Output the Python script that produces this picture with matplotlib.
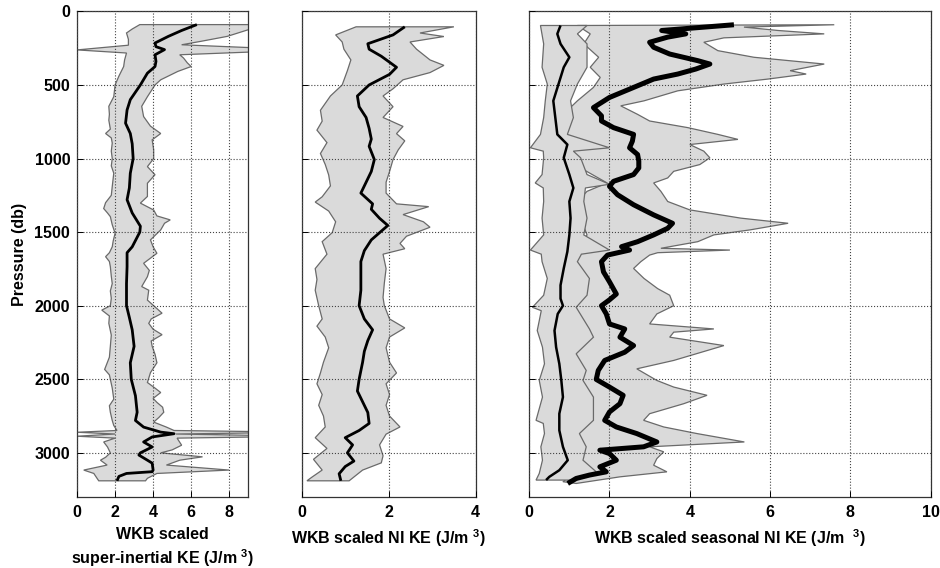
import numpy as np
import matplotlib.pyplot as plt

plt.rcParams['font.family'] = ['Liberation Sans', 'DejaVu Sans']
plt.rcParams['font.weight'] = 'bold'
plt.rcParams['mathtext.fontset'] = 'custom'
plt.rcParams['mathtext.rm'] = 'Liberation Sans:bold'
plt.rcParams['mathtext.bf'] = 'Liberation Sans:bold'
plt.rcParams['mathtext.default'] = 'bf'

# ---- left panel: super-inertial KE -------------------------------------
p_si_mean = [90, 130, 170, 215, 240, 260, 295, 340, 375, 420, 500, 600, 670, 760, 830, 900,
             1000, 1100, 1200, 1280, 1370, 1460, 1500, 1600, 1640, 1735, 1850, 2000, 2080,
             2164, 2276, 2388, 2500, 2612, 2724, 2780, 2825, 2859, 2870, 2892, 2926, 2960,
             3000, 3015, 3050, 3070, 3117, 3128, 3140, 3160, 3190]
si_mean = [6.3, 5.5, 4.8, 4.1, 4.15, 4.6, 4.1, 4.15, 4.1, 3.7, 3.33, 2.8, 2.63, 2.55, 2.8, 2.9,
           2.95, 2.8, 2.75, 2.63, 2.9, 3.33, 3.3, 2.9, 2.63, 2.63, 2.6, 2.6, 2.75,
           2.9, 3.0, 2.8, 2.85, 3.07, 3.16, 3.07, 3.5, 4.4, 5.1, 3.95, 3.5, 3.95,
           3.33, 3.25, 3.7, 3.95, 4.0, 3.95, 2.6, 2.2, 2.1]

p_si_lo = [90, 120, 147, 190, 230, 262, 283, 330, 375, 440, 500, 580, 645, 700, 740, 800, 830,
           860, 895, 950, 1000, 1050, 1100, 1190, 1250, 1300, 1340, 1370, 1395, 1450, 1508,
           1560, 1600, 1640, 1667, 1700, 1735, 1800, 1850, 1900, 1950, 2000, 2030, 2070, 2120,
           2200, 2276, 2350, 2433, 2470, 2500, 2560, 2635, 2680, 2724, 2780, 2814, 2848, 2860,
           2872, 2887, 2900, 2926, 2960, 3000, 3030, 3050, 3083, 3117, 3140, 3173, 3190]
si_lo = [3.3, 2.9, 2.6, 2.7, 2.7, 0.0, 2.6, 2.5, 2.45, 2.2, 2.0, 1.93, 1.67, 1.7, 1.67, 1.75, 1.5,
         1.8, 1.85, 1.8, 1.85, 1.8, 1.93, 1.85, 1.8, 1.5, 1.4, 1.6, 1.75, 1.85, 2.0,
         1.9, 1.85, 1.7, 1.5, 1.7, 1.75, 1.8, 1.85, 1.75, 1.8, 1.75, 1.3, 1.7, 1.67,
         1.8, 1.75, 1.7, 1.45, 1.7, 1.75, 1.85, 1.93, 1.7, 1.75, 1.85, 1.93, 2.1, 0.0,
         2.0, 0.0, 2.0, 1.4, 1.6, 1.75, 1.5, 1.23, 1.58, 0.35, 0.88, 1.05, 1.14]

p_si_hi = [90, 125, 170, 204, 227, 262, 295, 317, 350, 375, 408, 465, 500, 580, 645, 715, 780,
           830, 873, 940, 1000, 1055, 1110, 1168, 1258, 1303, 1350, 1390, 1417, 1440, 1485,
           1553, 1600, 1644, 1712, 1760, 1803, 1870, 1895, 1962, 2051, 2090, 2120, 2160, 2197,
           2240, 2276, 2330, 2388, 2455, 2522, 2560, 2590, 2630, 2657, 2690, 2724, 2760, 2791,
           2825, 2848, 2860, 2872, 2887, 2900, 2948, 2980, 3000, 3027, 3050, 3083, 3117, 3140,
           3173, 3190]
si_hi = [10.5, 9.0, 7.9, 6.5, 5.5, 12.0, 5.4, 5.6, 5.8, 6.0, 5.3, 4.4, 4.1, 3.7, 3.4, 3.5, 3.86,
         4.4, 3.95, 4.03, 4.03, 3.7, 4.1, 3.7, 3.7, 3.33, 4.03, 4.2, 4.9, 4.6, 4.4,
         3.86, 4.0, 4.2, 3.5, 3.8, 3.7, 3.4, 3.77, 3.7, 4.47, 3.9, 3.77, 4.0, 4.47,
         3.9, 3.95, 4.1, 4.2, 3.86, 3.7, 4.1, 4.4, 4.0, 4.2, 4.5, 4.56, 4.3, 4.03,
         4.7, 5.1, 12.0, 5.2, 12.0, 5.26, 5.5, 5.0, 4.4, 6.6, 5.4, 4.7, 8.0, 4.2,
         3.7, 3.6]

# ---- middle panel: NI KE -----------------------------------------------
p_ni_mean = [105, 160, 220, 257, 305, 380, 428, 500, 575, 648, 721, 795, 868, 917, 1007, 1088,
             1186, 1235, 1308, 1345, 1406, 1455, 1504, 1553, 1626, 1700, 1797, 1895, 2000, 2090,
             2164, 2237, 2310, 2384, 2500, 2580, 2653, 2726, 2800, 2848, 2897, 2946, 3000, 3056,
             3093, 3142, 3190]
ni_mean = [2.37, 2.1, 1.52, 1.55, 1.83, 2.18, 2.02, 1.55, 1.28, 1.32, 1.48, 1.55, 1.6, 1.55, 1.67,
           1.6, 1.44, 1.36, 1.63, 1.6, 1.79, 1.98, 1.79, 1.6, 1.44, 1.36, 1.36, 1.36, 1.32, 1.44,
           1.63, 1.52, 1.44, 1.4, 1.32, 1.28, 1.4, 1.52, 1.55, 1.32, 1.0, 1.17, 1.05, 1.2,
           1.0, 0.86, 0.9]

p_ni_lo = [105, 160, 208, 257, 330, 403, 500, 575, 672, 746, 807, 892, 966, 1040, 1112, 1186,
           1260, 1296, 1357, 1430, 1504, 1565, 1650, 1748, 1822, 1895, 2000, 2090, 2139, 2213,
           2286, 2384, 2457, 2531, 2604, 2677, 2750, 2824, 2897, 2970, 3044, 3117, 3166, 3190]
ni_lo = [1.25, 0.78, 0.93, 0.97, 1.13, 1.05, 0.93, 0.66, 0.43, 0.47, 0.35, 0.58, 0.43, 0.54, 0.62,
         0.66, 0.47, 0.31, 0.62, 0.78, 0.7, 0.47, 0.58, 0.31, 0.35, 0.31, 0.39, 0.47, 0.35, 0.54,
         0.62, 0.5, 0.43, 0.35, 0.47, 0.39, 0.5, 0.54, 0.31, 0.58, 0.27, 0.47, 0.23, 0.12]

p_ni_hi = [105, 147, 171, 208, 257, 330, 367, 416, 465, 526, 575, 648, 721, 782, 831, 880, 941,
           1007, 1088, 1161, 1235, 1308, 1327, 1381, 1430, 1467, 1528, 1577, 1613, 1650, 1748,
           1846, 1944, 2000, 2090, 2151, 2213, 2286, 2384, 2457, 2531, 2604, 2677, 2750, 2824,
           2873, 2946, 3020, 3068, 3117, 3190]
ni_hi = [3.5, 2.72, 3.27, 2.49, 2.64, 2.95, 3.27, 2.95, 2.33, 2.1, 1.87, 2.1, 1.87, 2.33, 2.18,
         2.37, 2.22, 2.1, 2.02, 1.94, 1.94, 2.18, 2.92, 2.33, 2.8, 2.95, 2.41, 2.26, 2.37, 1.87,
         1.94, 1.9, 1.87, 1.9, 2.02, 2.37, 2.02, 1.94, 2.02, 2.18, 1.94, 2.02, 1.94, 2.02, 2.26,
         1.94, 1.79, 1.87, 1.83, 1.4, 1.09]

# ---- right panel: seasonal NI KE ---------------------------------------
p_sn_mean = [91, 130, 153, 175, 210, 244, 290, 335, 358, 392, 426, 460, 517, 585, 654, 710, 745,
             790, 836, 882, 927, 973, 1018, 1064, 1109, 1155, 1189, 1246, 1314, 1383, 1440, 1474,
             1519, 1565, 1599, 1622, 1656, 1701, 1770, 1838, 1921, 1960, 2000, 2056, 2124, 2158,
             2214, 2271, 2316, 2372, 2440, 2501, 2553, 2609, 2666, 2722, 2779, 2824, 2869, 2926,
             2959, 2982, 3005, 3050, 3095, 3129, 3151, 3174, 3208]
sn_mean = [5.1, 3.3, 3.9, 3.45, 3.0, 3.1, 3.5, 4.2, 4.5, 4.15, 3.7, 3.1, 2.6, 2.0, 1.6, 1.8, 1.8,
           2.1, 2.6, 2.57, 2.5, 2.7, 2.73, 2.73, 2.6, 2.1, 2.0, 2.2, 2.6, 3.1, 3.57, 3.45,
           3.1, 2.7, 2.3, 2.5, 1.95, 1.8, 1.85, 2.0, 2.17, 2.0, 1.8, 1.92, 2.0, 2.38,
           2.26, 2.6, 2.38, 1.88, 1.72, 1.67, 2.0, 2.34, 2.26, 2.0, 1.88, 2.17, 2.68, 3.18,
           2.85, 1.76, 2.0, 2.17, 1.76, 1.92, 1.5, 1.17, 0.96]

p_sn_lo = [96, 153, 221, 312, 380, 449, 517, 608, 676, 768, 836, 927, 995, 1064, 1166, 1223,
           1292, 1405, 1519, 1633, 1747, 1861, 1929, 2011, 2124, 2237, 2350, 2463, 2576, 2688,
           2801, 2914, 3005, 3095, 3163, 3196]
sn_lo = [1.2, 1.52, 1.36, 1.73, 1.52, 1.77, 1.6, 1.2, 0.94, 0.78, 0.6, 0.86, 1.1, 1.28, 1.94, 1.44,
         1.2, 1.28, 1.44, 1.2, 1.03, 1.1, 1.2, 1.0, 0.84, 1.05, 0.84, 1.0, 0.96, 1.05,
         0.84, 1.09, 1.17, 1.42, 1.0, 0.84]

p_sn_hi = [91, 107, 130, 153, 180, 210, 267, 312, 358, 403, 426, 460, 494, 540, 608, 642, 700,
           745, 790, 836, 870, 905, 950, 995, 1041, 1087, 1132, 1166, 1223, 1292, 1349, 1405,
           1440, 1485, 1519, 1565, 1610, 1622, 1640, 1656, 1701, 1747, 1815, 1884, 1929, 2000,
           2056, 2124, 2158, 2180, 2214, 2271, 2305, 2372, 2429, 2508, 2553, 2609, 2666, 2734,
           2779, 2824, 2869, 2926, 2959, 2993, 3039, 3084, 3129, 3163, 3208]
sn_hi = [7.6, 5.35, 6.2, 7.35, 4.85, 4.35, 4.7, 5.6, 7.35, 6.5, 6.9, 5.95, 4.85, 3.7, 2.86, 2.28,
         2.7, 3.0, 3.95, 4.7, 5.2, 4.0, 4.35, 4.5, 4.25, 3.6, 3.45, 3.1, 3.28, 3.45, 4.0, 5.27,
         6.45, 5.5, 4.6, 4.2, 3.28, 5.0, 3.2, 3.0, 2.78, 2.6, 2.86, 3.2, 3.5, 3.6,
         3.18, 3.0, 4.6, 3.6, 3.5, 4.85, 4.43, 3.6, 2.68, 3.18, 3.6, 4.43, 3.85, 3.0,
         2.85, 3.35, 4.18, 5.36, 3.0, 3.35, 3.18, 3.1, 3.43, 2.26, 1.17]

p_sn2_mean = [96, 153, 221, 312, 380, 494, 608, 722, 836, 905, 995, 1109, 1200, 1292, 1405, 1519,
              1633, 1747, 1861, 1952, 2000, 2056, 2169, 2282, 2395, 2508, 2621, 2734, 2847, 2959,
              3050, 3118, 3163, 3185]
sn2_mean = [0.78, 0.7, 0.78, 1.0, 0.86, 0.73, 0.6, 0.65, 0.7, 0.95, 0.86, 1.0, 1.1, 1.0, 1.03, 1.0,
            0.95, 0.86, 0.78, 0.78, 0.84, 0.71, 0.63, 0.67, 0.75, 0.8, 0.84, 0.75, 0.75, 0.84,
            0.96, 0.75, 0.5, 0.42]

p_sn2_lo = [96, 221, 380, 494, 608, 722, 836, 927, 950, 995, 1109, 1166, 1200, 1292, 1405, 1519,
            1622, 1650, 1701, 1815, 1929, 2011, 2034, 2102, 2169, 2282, 2395, 2508, 2621, 2779,
            2800, 2869, 2959, 3050, 3140, 3185]
sn2_lo = [0.28, 0.36, 0.32, 0.45, 0.4, 0.36, 0.28, 0.03, 0.35, 0.36, 0.32, 0.15, 0.35, 0.36, 0.32,
          0.36, 0.03, 0.3, 0.32, 0.45, 0.36, 0.08, 0.3, 0.25, 0.2, 0.33, 0.38, 0.25, 0.33, 0.17,
          0.35, 0.38, 0.29, 0.33, 0.25, 0.17]

p_sn2_hi = [96, 153, 221, 380, 494, 608, 722, 836, 927, 950, 995, 1109, 1175, 1200, 1292, 1405,
            1519, 1622, 1650, 1701, 1815, 1929, 2011, 2158, 2214, 2327, 2440, 2508, 2621, 2779,
            2869, 2959, 3050, 3129, 3185]
sn2_hi = [1.44, 1.2, 1.44, 1.44, 1.2, 1.03, 1.1, 0.95, 2.0, 1.1, 1.28, 1.44, 2.0, 1.4, 1.36, 1.44,
          1.36, 2.0, 1.3, 1.2, 1.5, 1.44, 1.17, 1.5, 1.6, 1.17, 1.42, 1.34, 1.6, 1.6,
          1.25, 1.42, 1.34, 1.67, 1.17]

xlabels = ['WKB scaled\nsuper-inertial KE (J/m $^{3}$)',
           'WKB scaled NI KE (J/m $^{3}$)',
           'WKB scaled seasonal NI KE (J/m  $^{3}$)']
xlims = [9, 4, 10]
xticks = [[0, 2, 4, 6, 8], [0, 2, 4], [0, 2, 4, 6, 8, 10]]
yticks = [0, 500, 1000, 1500, 2000, 2500, 3000]

band_color = '#dadada'
edge_color = '#6a6a6a'
fs = 11.5


def draw_band(ax, p_lo, lo, p_hi, hi, p_mid, mid, lw):
    xs = np.concatenate([lo, hi[::-1]])
    ys = np.concatenate([p_lo, p_hi[::-1]])
    ax.fill(xs, ys, facecolor=band_color, edgecolor=edge_color, lw=0.9, zorder=1)
    ax.plot(mid, p_mid, color='k', lw=lw, zorder=3, solid_capstyle='butt')


fig = plt.figure(figsize=(9.4, 5.68), dpi=100)
bottom, height = 0.125, 0.855
axes = [fig.add_axes([0.082, bottom, 0.182, height]),
        fig.add_axes([0.321, bottom, 0.185, height]),
        fig.add_axes([0.563, bottom, 0.427, height])]

a = np.array
draw_band(axes[0], a(p_si_lo), a(si_lo), a(p_si_hi), a(si_hi), p_si_mean, si_mean, 2.0)
draw_band(axes[1], a(p_ni_lo), a(ni_lo), a(p_ni_hi), a(ni_hi), p_ni_mean, ni_mean, 2.0)
draw_band(axes[2], a(p_sn_lo), a(sn_lo), a(p_sn_hi), a(sn_hi), p_sn_mean, sn_mean, 3.6)
draw_band(axes[2], a(p_sn2_lo), a(sn2_lo), a(p_sn2_hi), a(sn2_hi), p_sn2_mean, sn2_mean, 1.8)

for i, ax in enumerate(axes):
    ax.set_xlim(0, xlims[i])
    ax.set_ylim(3300, 0)
    ax.set_xticks(xticks[i])
    ax.set_yticks(yticks)
    ax.set_axisbelow(False)
    ax.grid(True, ls=':', color='#444444', lw=0.8)
    ax.tick_params(direction='in', length=4, width=0.7, labelsize=fs)
    ax.tick_params(axis='x', pad=6)
    ax.tick_params(axis='y', pad=5)
    for s in ax.spines.values():
        s.set_color('#333333')
        s.set_linewidth(0.9)
    ax.set_xlabel(xlabels[i], fontsize=fs, fontweight='bold', labelpad=5, linespacing=1.3)
    if i > 0:
        ax.set_yticklabels([])

axes[0].set_ylabel('Pressure (db)', fontsize=fs, fontweight='bold', labelpad=5)

fig.savefig('out.png', dpi=100)
